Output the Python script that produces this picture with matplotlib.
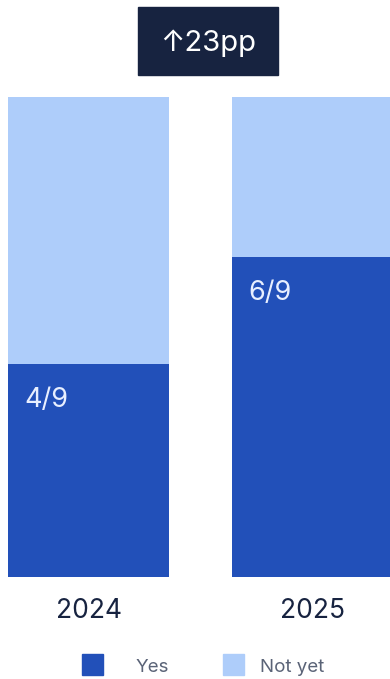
import matplotlib.pyplot as plt
from matplotlib.patches import Rectangle

plt.rcParams['font.family'] = ['Inter', 'DejaVu Sans']

years = ["2024", "2025"]
yes = [4, 6]
total = [9, 9]
change_label = "↑23pp"

DARK = "#2250b9"
LIGHT = "#aecdfa"
NAVY = "#172340"

W, H = 390, 679
fig = plt.figure(figsize=(W / 100, H / 100), dpi=100)

# bars occupy y = 97..577 px
ax = fig.add_axes([0, (H - 577) / H, 1, 480 / H])
x = list(range(len(years)))
width = 161 / 224
not_yet = [t - y for t, y in zip(total, yes)]
ax.bar(x, yes, width=width, color=DARK, linewidth=0)
ax.bar(x, not_yet, bottom=yes, width=width, color=LIGHT, linewidth=0)
ax.set_xlim(-88.5 / 224, (W - 88.5) / 224)
ax.set_ylim(0, max(total))
ax.axis("off")

for xi, y, t in zip(x, yes, total):
    ax.annotate(f"{y}/{t}", (xi - width / 2, y), xytext=(16, -36),
                textcoords="offset pixels", color="#e8efff", fontsize=19.5,
                ha="left", va="center")

for xi, yr in zip(x, years):
    ax.annotate(yr, (xi, 0), xytext=(0, -34), textcoords="offset pixels",
                color=NAVY, fontsize=19, ha="center", va="center",
                annotation_clip=False)

# change badge
fig.patches.append(Rectangle((138 / W, 1 - 75 / H), 140 / W, 68 / H,
                             transform=fig.transFigure, color=NAVY, zorder=0))
fig.text(208 / W, 1 - 43 / H, change_label, color="white", fontsize=21,
         ha="center", va="center")

# legend
for sx, col, tx, label in [(82, DARK, 136, "Yes"), (223, LIGHT, 260, "Not yet")]:
    fig.patches.append(Rectangle((sx / W, 1 - 675 / H), 21 / W, 21 / H,
                                 transform=fig.transFigure, color=col))
    fig.text(tx / W, 1 - 667 / H, label, color="#5a6377", fontsize=13.5,
             ha="left", va="center")

fig.savefig("out.png", dpi=100)
